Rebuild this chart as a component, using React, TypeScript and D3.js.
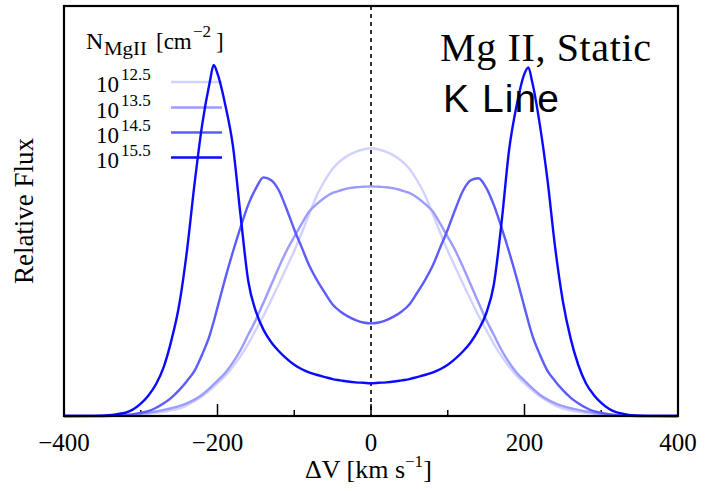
import React from "react";
import * as d3 from "d3";

// Velocity grid (km/s)
const velocity = [
  -400, -350, -320, -300, -290, -280, -270, -260, -250, -240, -230, -220, -210, -205, -200, -190, -180, -170,
  -160, -150, -140, -130, -120, -110, -100, -90, -80, -70, -60, -50, -40, -30, -20, -10, 0,
  10, 20, 30, 40, 50, 60, 70, 80, 90, 100, 110, 120, 130, 140, 150, 160, 170, 180, 190, 200, 205, 210,
  220, 230, 240, 250, 260, 270, 280, 290, 300, 320, 350, 400,
];

// Relative flux for each column density
const flux125 = [
  0, 0, 0.002, 0.004, 0.006, 0.008, 0.01, 0.014, 0.018, 0.026, 0.036, 0.048, 0.063, 0.071, 0.08, 0.098, 0.12, 0.146,
  0.176, 0.21, 0.245, 0.283, 0.322, 0.362, 0.403, 0.448, 0.495, 0.54, 0.575, 0.603, 0.622, 0.635, 0.644, 0.65, 0.653,
  0.65, 0.644, 0.635, 0.622, 0.603, 0.575, 0.54, 0.495, 0.448, 0.403, 0.362, 0.322, 0.283, 0.245, 0.21, 0.176, 0.146, 0.12, 0.098, 0.08, 0.071, 0.063,
  0.048, 0.036, 0.026, 0.018, 0.014, 0.01, 0.008, 0.006, 0.004, 0.002, 0, 0,
];
const flux135 = [
  0, 0, 0.002, 0.005, 0.008, 0.011, 0.015, 0.019, 0.024, 0.031, 0.04, 0.052, 0.068, 0.077, 0.086, 0.105, 0.13, 0.161,
  0.198, 0.235, 0.277, 0.32, 0.363, 0.403, 0.437, 0.47, 0.5, 0.518, 0.533, 0.544, 0.55, 0.555, 0.558, 0.559, 0.56,
  0.559, 0.558, 0.555, 0.55, 0.544, 0.533, 0.518, 0.5, 0.47, 0.437, 0.403, 0.363, 0.32, 0.277, 0.235, 0.198, 0.161, 0.13, 0.105, 0.086, 0.077, 0.068,
  0.052, 0.04, 0.031, 0.024, 0.019, 0.015, 0.011, 0.008, 0.005, 0.002, 0, 0,
];
const flux145 = [
  0, 0, 0.002, 0.008, 0.012, 0.02, 0.031, 0.045, 0.063, 0.085, 0.11, 0.15, 0.198, 0.23, 0.265, 0.335, 0.4, 0.46,
  0.515, 0.555, 0.582, 0.575, 0.55, 0.505, 0.455, 0.41, 0.365, 0.33, 0.3, 0.272, 0.255, 0.243, 0.234, 0.228, 0.226,
  0.228, 0.234, 0.243, 0.255, 0.272, 0.3, 0.33, 0.365, 0.41, 0.455, 0.505, 0.55, 0.575, 0.58, 0.557, 0.515, 0.46, 0.4, 0.335, 0.265, 0.23, 0.198,
  0.15, 0.11, 0.085, 0.063, 0.045, 0.031, 0.02, 0.012, 0.008, 0.002, 0, 0,
];
const flux155 = [
  0, 0.001, 0.008, 0.03, 0.05, 0.078, 0.12, 0.185, 0.27, 0.4, 0.565, 0.71, 0.815, 0.856, 0.835, 0.76, 0.66, 0.49,
  0.33, 0.255, 0.21, 0.18, 0.158, 0.14, 0.125, 0.114, 0.106, 0.1, 0.095, 0.09, 0.087, 0.084, 0.082, 0.081, 0.08,
  0.081, 0.082, 0.084, 0.087, 0.09, 0.095, 0.1, 0.106, 0.114, 0.125, 0.14, 0.158, 0.18, 0.21, 0.25, 0.32, 0.47, 0.65, 0.76, 0.835, 0.85, 0.815,
  0.71, 0.575, 0.41, 0.28, 0.19, 0.125, 0.08, 0.052, 0.032, 0.009, 0.001, 0,
];

const seriesNames = ["12.5", "13.5", "14.5", "15.5"];
const seriesValues = [flux125, flux135, flux145, flux155];
const seriesColors = ["#d2d2ff", "#9c9cff", "#5c5cff", "#0a0aff"];

const xMajorTicks = [-400, -200, 0, 200, 400];
const xMinorTicks = [-300, -100, 100, 300];

const W = 708;
const H = 491;
const L = 64, R = 678, T = 6, B = 416;
const SERIF = "'Liberation Serif', 'Times New Roman', serif";
const SANS = "'Liberation Sans', Arial, sans-serif";

export default function App() {
  const x = d3.scaleLinear().domain([-400, 400]).range([L, R]);
  const y = d3.scaleLinear().domain([0, 1]).range([B, T]);
  const line = d3
    .line<number>()
    .x((_, i) => x(velocity[i]))
    .y((d) => y(d))
    .curve(d3.curveMonotoneX);

  const legendY = [82, 107.5, 132.5, 157.5];

  return (
    <svg width={W} height={H} style={{ position: "absolute", left: 0, top: 0, background: "#fff" }}>
      <rect x={0} y={0} width={W} height={H} fill="#fff" />
      {/* dashed zero line */}
      <line x1={x(0)} x2={x(0)} y1={T} y2={B} stroke="#000" strokeWidth={1.6} strokeDasharray="4,4" />
      {/* ticks */}
      {xMajorTicks.map((t) => (
        <line key={"M" + t} x1={x(t)} x2={x(t)} y1={B} y2={B - 12} stroke="#000" strokeWidth={1.5} />
      ))}
      {xMinorTicks.map((t) => (
        <line key={"m" + t} x1={x(t)} x2={x(t)} y1={B} y2={B - 6} stroke="#000" strokeWidth={1.5} />
      ))}
      {/* legend */}
      <text x={86} y={49} fontFamily={SERIF} fontSize={24} fill="#000">N</text>
      <text x={104} y={55} fontFamily={SERIF} fontSize={18} fill="#000" textLength={43} lengthAdjust="spacingAndGlyphs">MgII</text>
      <text x={156} y={49} fontFamily={SERIF} fontSize={23} fill="#000">[cm</text>
      <text x={193} y={37} fontFamily={SERIF} fontSize={17} fill="#000">−2</text>
      <text x={216} y={49} fontFamily={SERIF} fontSize={23} fill="#000">]</text>
      {seriesNames.map((n, i) => (
        <g key={n}>
          <text x={96} y={legendY[i] + 10} fontFamily={SERIF} fontSize={23} fill="#000">10</text>
          <text x={121} y={legendY[i] - 2} fontFamily={SERIF} fontSize={17} fill="#000">{n}</text>
          <line x1={171} x2={222} y1={legendY[i]} y2={legendY[i]} stroke={seriesColors[i]} strokeWidth={2.4} />
        </g>
      ))}
      {/* curves */}
      {seriesValues.map((vals, i) => (
        <path key={i} d={line(vals) || ""} fill="none" stroke={seriesColors[i]} strokeWidth={2.4} strokeLinejoin="round" />
      ))}
      {/* frame */}
      <rect x={L} y={T} width={R - L} height={B - T} fill="none" stroke="#000" strokeWidth={2.2} />
      {/* titles */}
      <text x={440} y={61} fontFamily={SERIF} fontSize={40} fill="#000" textLength={211} lengthAdjust="spacing">Mg II, Static</text>
      <text x={443} y={112} fontFamily={SANS} fontSize={39} fill="#000" textLength={116} lengthAdjust="spacing">K Line</text>
      {/* tick labels */}
      {xMajorTicks.map((t) => (
        <text key={"l" + t} x={x(t)} y={451} textAnchor="middle" fontFamily={SERIF} fontSize={25} fill="#000">
          {t < 0 ? "−" + Math.abs(t) : String(t)}
        </text>
      ))}
      {/* axis labels */}
      <text x={305} y={478} fontFamily={SERIF} fontSize={26} fill="#000">
        ΔV [km s<tspan dy={-11} fontSize={17}>−1</tspan><tspan dy={11}>]</tspan>
      </text>
      <text transform={`translate(33,211) rotate(-90)`} textAnchor="middle" fontFamily={SERIF} fontSize={27} fill="#000">
        Relative Flux
      </text>
    </svg>
  );
}
